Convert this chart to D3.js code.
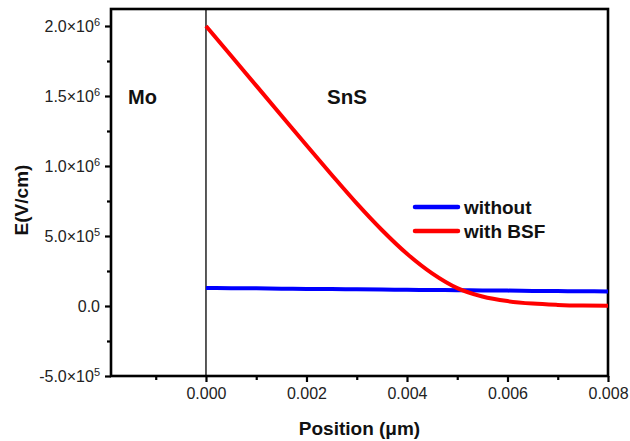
<!DOCTYPE html>
<html><head><meta charset="utf-8">
<script src="https://cdn.jsdelivr.net/npm/d3@7"></script>
<style>body{margin:0;background:#fff}svg{display:block}</style>
</head><body>
<svg id="c" width="630" height="441"></svg>
<script>
const positions = [0,0.0005,0.001,0.0015,0.002,0.0025,0.003,0.0035,0.004,0.0045,0.005,0.0055,0.006,0.0065,0.007,0.0075,0.008];
const withBSF = [2.0e6,1.787e6,1.574e6,1.361e6,1.148e6,0.938e6,0.733e6,0.543e6,0.373e6,0.233e6,0.128e6,0.068e6,0.035e6,0.017e6,0.008e6,0.003e6,0.001e6];
const without = [1.29e5,1.27e5,1.26e5,1.24e5,1.22e5,1.21e5,1.19e5,1.17e5,1.16e5,1.14e5,1.13e5,1.11e5,1.10e5,1.08e5,1.07e5,1.05e5,1.04e5];
const xTicks = [0,0.002,0.004,0.006,0.008];
const xMinor = [-0.001,0.001,0.003,0.005,0.007];
const yTicks = [-5e5,0,5e5,1e6,1.5e6,2e6];
const yMinor = [-2.5e5,2.5e5,7.5e5,1.25e6,1.75e6];
const yLabels = [["-5.0×10","5"],["0.0",""],["5.0×10","5"],["1.0×10","6"],["1.5×10","6"],["2.0×10","6"]];
const legendLabels = ["without","with BSF"];
const colors = ["#0000ff","#ff0000"];

const L=111,R=608,T=9,B=376;
const x = d3.scaleLinear().domain([-0.00189,0.008]).range([L,R]);
const y = d3.scaleLinear().domain([-5e5,2.1214e6]).range([B,T]);
const svg = d3.select("#c");
const font = "'Liberation Sans', Arial, sans-serif";

const gx = svg.append("g").attr("transform",`translate(0,${B})`)
  .call(d3.axisBottom(x).tickValues(xTicks).tickSize(6).tickPadding(6).tickFormat(d3.format(".3f")));
const gxm = svg.append("g").attr("transform",`translate(0,${B})`)
  .call(d3.axisBottom(x).tickValues(xMinor).tickSize(4).tickFormat(""));
const gy = svg.append("g").attr("transform",`translate(${L},0)`)
  .call(d3.axisLeft(y).tickValues(yTicks).tickSize(6).tickPadding(5).tickFormat(""));
const gym = svg.append("g").attr("transform",`translate(${L},0)`)
  .call(d3.axisLeft(y).tickValues(yMinor).tickSize(4).tickFormat(""));
[gx,gxm,gy,gym].forEach(g=>{g.select(".domain").remove();g.selectAll("line").attr("stroke","#000").attr("stroke-width",2.2);});
gx.selectAll("text").attr("font-family",font).attr("font-size",16).attr("fill","#222");
gy.selectAll(".tick").each(function(d){
  const t = d3.select(this).append("text").attr("x",-11).attr("dy","0.36em")
    .attr("text-anchor","end").attr("font-family",font).attr("font-size",16).attr("fill","#222");
  const lab = yLabels[yTicks.indexOf(d)];
  t.append("tspan").text(lab[0]);
  if(lab[1]) t.append("tspan").attr("font-size",11).attr("dy","-0.6em").text(lab[1]);
});

svg.append("rect").attr("x",L).attr("y",T).attr("width",R-L).attr("height",B-T)
  .attr("fill","none").attr("stroke","#000").attr("stroke-width",2.6);
svg.append("line").attr("x1",x(0)).attr("x2",x(0)).attr("y1",T).attr("y2",B)
  .attr("stroke","#000").attr("stroke-width",1.3);

const line = d3.line().x((d,i)=>x(positions[i])).y(d=>y(d)).curve(d3.curveMonotoneX);
svg.append("path").datum(without).attr("d",line).attr("fill","none").attr("stroke",colors[0]).attr("stroke-width",4);
svg.append("path").datum(withBSF).attr("d",line).attr("fill","none").attr("stroke",colors[1]).attr("stroke-width",4);

legendLabels.forEach((lab,i)=>{
  const yy = 207 + i*24;
  svg.append("line").attr("x1",415).attr("x2",458).attr("y1",yy).attr("y2",yy)
    .attr("stroke",colors[i]).attr("stroke-width",4.5).attr("stroke-linecap","round");
  svg.append("text").attr("x",464).attr("y",yy).attr("dy","0.36em")
    .attr("font-family",font).attr("font-weight","bold").attr("font-size",19).attr("fill","#111").text(lab);
});

svg.append("text").attr("x",128).attr("y",97).attr("dy","0.36em").attr("font-family",font)
  .attr("font-weight","bold").attr("font-size",20).attr("fill","#111").text("Mo");
svg.append("text").attr("x",327).attr("y",97).attr("dy","0.36em").attr("font-family",font)
  .attr("font-weight","bold").attr("font-size",20.5).attr("fill","#111").text("SnS");

svg.append("text").attr("x",(L+R)/2).attr("y",428).attr("dy","0.36em").attr("text-anchor","middle")
  .attr("font-family",font).attr("font-weight","bold").attr("font-size",19).attr("fill","#111").text("Position (μm)");
svg.append("text").attr("transform","translate(21,200) rotate(-90)").attr("dy","0.36em").attr("text-anchor","middle")
  .attr("font-family",font).attr("font-weight","bold").attr("font-size",19).attr("fill","#111").text("E(V/cm)");
</script>
</body></html>
